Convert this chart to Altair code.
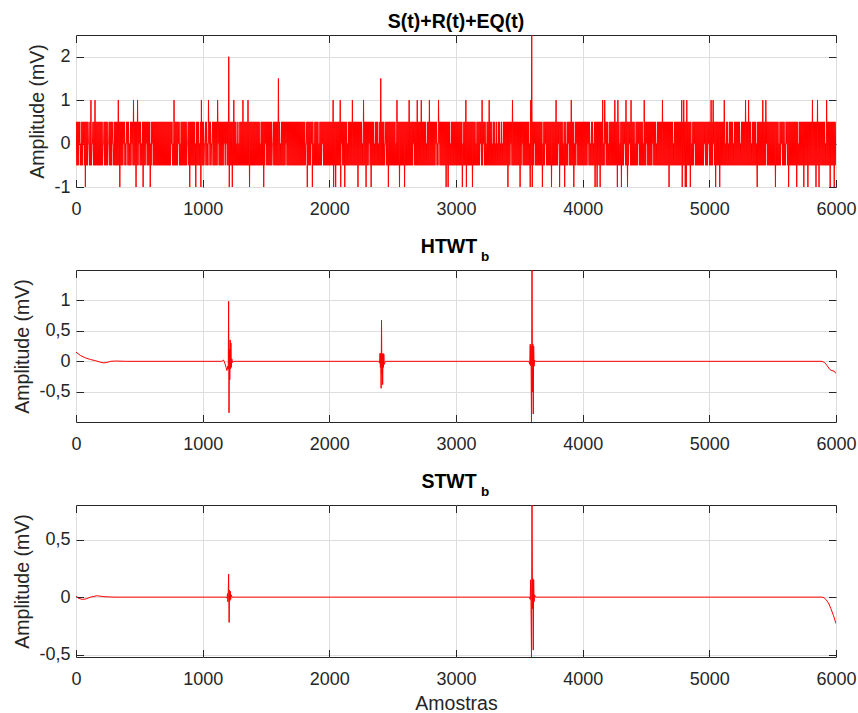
import altair as alt
import pandas as pd

FONT = "Liberation Sans"
RED = "#ff0000"
INK = "#262626"
GRID = "#dedede"

PLOT_W, PLOT_H = 760, 152
TICK = 7.5

X_TICKS = [0, 1000, 2000, 3000, 4000, 5000, 6000]

# ---- S(t)+R(t)+EQ(t): quantised noisy record, 6000 samples ----
N_SAMPLES = 6000
BIN = 8                      # samples drawn per column step
BAND_LOW, BAND_HIGH = -0.5, 0.5
UP_SPIKES = [113, 147, 332, 455, 487, 771, 984, 1047, 1118, 1242, 1316, 1356,
             2024, 2084, 2176, 2271, 2532, 2629, 2692, 2726, 2784, 2858, 3076,
             3203, 3263, 3447, 3587, 3787, 3905, 4155, 4168, 4255, 4274, 4340,
             4379, 4485, 4627, 4777, 4798, 4821, 5008, 5029, 5118, 5287, 5308,
             5418, 5440, 5808, 5848, 5927]
DOWN_SPIKES = [74, 345, 479, 534, 587, 900, 947, 987, 1213, 1239, 1368, 1482,
               1826, 1871, 2037, 2055, 2090, 2124, 2229, 2295, 2334, 2471, 2558,
               2597, 2924, 2937, 3055, 3085, 3132, 3411, 3505, 3587, 3606, 3681,
               3756, 3823, 3858, 3932, 4097, 4116, 4137, 4277, 4308, 4353, 4687,
               4787, 4808, 4821, 4850, 5050, 5084, 5382, 5527, 5629, 5695, 5745,
               5777, 5842, 5866, 5953, 5987]
PEAKS = [1203, 1592, 2405, 3597]
PEAK_VALUES = [2.0, 1.5, 1.5, 2.5]
UPPER_GAPS = [34, 100, 126, 208, 250, 292, 389, 418, 453, 516, 587, 766, 818,
              874, 942, 968, 1011, 1034, 1071, 1266, 1284, 1450, 1547, 1608,
              1811, 1876, 1918, 2142, 2261, 2353, 2387, 2432, 2524, 2761, 2853,
              2958, 3050, 3155, 3234, 3287, 3305, 3326, 3345, 3366, 3576, 3682,
              3840, 3866, 3932, 4058, 4084, 4163, 4203, 4295, 4413, 4479, 4576,
              4716, 4861, 5124, 5145, 5190, 5242, 5334, 5374, 5545, 5598, 5703,
              5808, 5913]
LOWER_GAPS = [29, 63, 103, 134, 221, 261, 295, 350, 376, 405, 442, 476, 503,
              555, 600, 758, 813, 884, 945, 1016, 1050, 1076, 1124, 1168, 1187,
              1371, 1503, 1555, 1661, 1818, 1863, 1945, 2103, 2313, 2445, 2555,
              2669, 2840, 2866, 3195, 3221, 3432, 3524, 3616, 3708, 3813, 3892,
              3958, 4045, 4176, 4334, 4374, 4440, 4505, 4558, 4887, 4966, 4998,
              5032, 5453, 5571, 5611]

# ---- HTWT_b ----
HT_X = [0, 37, 76, 116, 155, 195, 221, 247, 274, 313, 400,
        1150, 1165, 1175, 1185, 1192, 1198, 1202, 1205, 1208, 1211, 1214, 1217,
        1220, 1223, 1226, 1230, 1236, 1245,
        2390, 2397, 2400, 2403, 2406, 2409, 2412, 2415, 2418, 2421, 2424, 2427,
        2430, 2434, 2442,
        3575, 3582, 3586, 3589, 3592, 3596, 3600, 3604, 3607, 3610, 3613, 3616,
        3620, 3628,
        5890, 5910, 5930, 5950, 5965, 5985, 6000]
HT_Y = [0.15, 0.093, 0.055, 0.028, 0.01, -0.016, -0.026, -0.016, 0.0, 0.005, 0.0,
        0.0, 0.02, -0.03, -0.1, -0.15, -0.08, -0.12, 0.98, -0.84, 0.2, -0.3, 0.35,
        -0.12, 0.3, -0.1, 0.04, -0.02, 0.0,
        0.0, -0.03, 0.13, -0.1, 0.13, -0.44, 0.67, -0.2, 0.12, -0.38, 0.13, -0.1,
        0.12, -0.05, 0.0,
        0.0, -0.05, 0.28, -0.07, 0.25, -0.99, 1.49, -0.5, 0.28, -0.86, 0.25, -0.08,
        0.02, 0.0,
        0.0, -0.02, -0.07, -0.13, -0.15, -0.16, -0.2]

# ---- STWT_b ----
ST_X = [0, 20, 50, 80, 115, 165, 220, 300,
        1185, 1192, 1196, 1199, 1202, 1205, 1209, 1212, 1215, 1218, 1221, 1225, 1232,
        3580, 3586, 3589, 3592, 3596, 3600, 3604, 3607, 3610, 3613, 3616, 3620, 3628,
        5890, 5905, 5920, 5940, 5960, 5980, 6000]
ST_Y = [0.01, -0.01, -0.02, -0.015, 0.0, 0.012, 0.004, 0.0,
        0.0, -0.01, 0.03, -0.04, 0.05, 0.2, -0.22, 0.06, -0.03, 0.05, -0.02, 0.02, 0.0,
        0.0, -0.02, 0.15, -0.04, -0.52, 0.8, -0.1, 0.16, -0.46, 0.15, -0.04, 0.02, 0.0,
        0.0, -0.005, -0.02, -0.05, -0.1, -0.16, -0.23]

# decimal comma and ASCII minus on the amplitude ticks
LABEL_EXPR = ("(datum.value < 0 ? '-' : '') + "
              "replace(format(abs(datum.value), ''), '.', ',')")


def noisy_frame():
    n = N_SAMPLES // BIN
    lo = [BAND_LOW] * n
    hi = [BAND_HIGH] * n
    for s in UPPER_GAPS:
        hi[s // BIN] = 0.0
    for s in LOWER_GAPS:
        lo[s // BIN] = 0.0
    for s in UP_SPIKES:
        hi[s // BIN] = 1.0
    for s in DOWN_SPIKES:
        lo[s // BIN] = -1.0
    for s, v in zip(PEAKS, PEAK_VALUES):
        hi[s // BIN] = v
    xs, ys = [], []
    for i in range(n):
        xs += [i * BIN + 2, i * BIN + 6]
        ys += [lo[i], hi[i]]
    return pd.DataFrame({"x": xs, "y": ys})


def heading(text, x, y, size, align):
    """Bold panel heading, placed relative to the plot frame."""
    return alt.Chart(pd.DataFrame({"t": [text]})).mark_text(
        font=FONT, fontSize=size, fontWeight="bold", color="black",
        align=align, baseline="alphabetic",
    ).encode(text="t:N", x=alt.value(x), y=alt.value(y))


def panel(df, domain, yticks, title, title_y, sub_y=None, xtitle=None):
    xs = alt.Scale(domain=[0, N_SAMPLES], nice=False, zero=False)
    ys = alt.Scale(domain=domain, nice=False, zero=False)

    x_main = alt.Axis(orient="bottom", values=X_TICKS, grid=True, format="d",
                      tickSize=TICK, offset=-TICK, domain=False,
                      labelPadding=13, labelFlush=False, labelOverlap=False,
                      title=xtitle, titlePadding=6)
    y_main = alt.Axis(orient="left", values=yticks, grid=True,
                      tickSize=TICK, offset=-TICK, domain=False,
                      labelPadding=6, labelExpr=LABEL_EXPR, labelOverlap=False,
                      title="Amplitude (mV)", titlePadding=6.5)
    x_top = alt.Axis(orient="top", values=X_TICKS, labels=False, grid=False,
                     tickSize=TICK, offset=-TICK, domain=False, title=None)
    y_right = alt.Axis(orient="right", values=yticks, labels=False, grid=False,
                       tickSize=TICK, offset=-TICK, domain=False, title=None)

    corners = pd.DataFrame({"x": [0, N_SAMPLES], "y": domain})
    box = alt.Chart(corners).mark_point(opacity=0).encode(
        x=alt.X("x:Q", scale=xs, axis=x_top),
        y=alt.Y("y:Q", scale=ys, axis=y_right),
    )
    line = alt.Chart(df).mark_line(color=RED, strokeWidth=1, clip=True).encode(
        x=alt.X("x:Q", scale=xs, axis=x_main),
        y=alt.Y("y:Q", scale=ys, axis=y_main),
    )
    layers = [box, line]
    if sub_y is None:
        layers.append(heading(title, PLOT_W / 2, title_y, 19.5, "center"))
    else:
        # main word centred together with its subscript "b"
        layers.append(heading(title, PLOT_W / 2 - 7, title_y, 19.5, "center"))
        layers.append(heading("b", 405, sub_y, 13.5, "left"))
    return alt.layer(*layers).resolve_axis(
        x="independent", y="independent"
    ).properties(width=PLOT_W, height=PLOT_H)


p1 = panel(noisy_frame(), [-1, 2.5], [-1, 0, 1, 2], "S(t)+R(t)+EQ(t)", -7.3)
p2 = panel(pd.DataFrame({"x": HT_X, "y": HT_Y}), [-0.99, 1.49],
           [-0.5, 0, 0.5, 1], "HTWT", -16.6, sub_y=-8.6)
p3 = panel(pd.DataFrame({"x": ST_X, "y": ST_Y}), [-0.52, 0.8],
           [-0.5, 0, 0.5], "STWT", -17.4, sub_y=-9.3, xtitle="Amostras")

chart = alt.vconcat(p1, p2, p3, spacing=83, bounds="flush").properties(
    padding={"left": 11, "top": 11, "right": 0, "bottom": 0},
    background="white",
).configure_view(
    stroke=INK, strokeWidth=1,
).configure_axis(
    labelFont=FONT, labelFontSize=18, labelColor=INK,
    titleFont=FONT, titleFontSize=19.5, titleFontWeight="normal",
    titleColor=INK, tickColor=INK, tickWidth=1,
    gridColor=GRID, gridWidth=1,
)

chart.save("out.html", embed_options={"renderer": "svg", "actions": False})
